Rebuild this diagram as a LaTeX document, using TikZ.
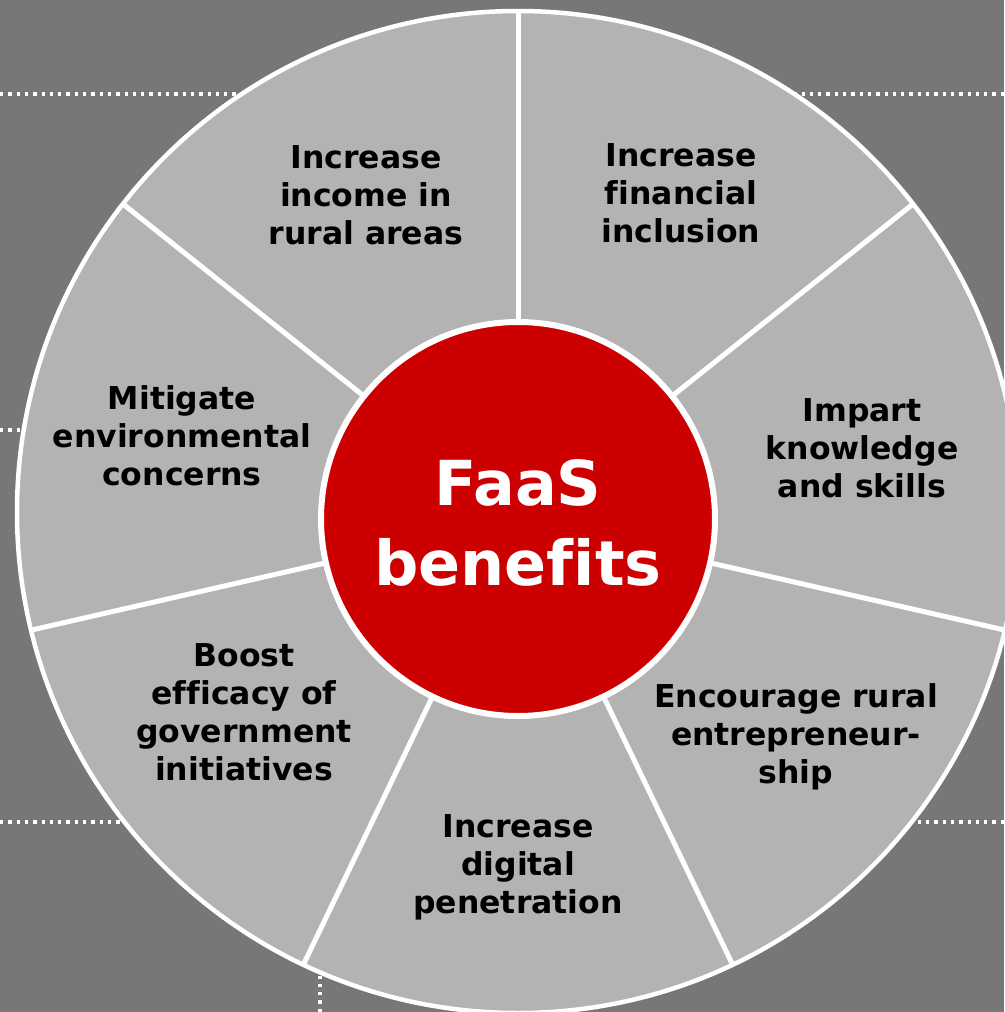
\documentclass[tikz,border=0pt]{standalone}
\usepackage{fontspec}
\setmainfont{DejaVu Sans}[Ligatures=NoCommon]
\definecolor{bg}{HTML}{777777}
\definecolor{seg}{HTML}{B3B3B3}
\definecolor{faasred}{HTML}{CC0000}
\begin{document}
\begin{tikzpicture}[x=1pt,y=-1pt,
  lbl/.style={font=\fontsize{31.5}{38}\selectfont\bfseries, align=center, text=black, inner sep=0pt},
  dots/.style={white, line width=3.5pt, dash pattern=on 3.3pt off 5pt},
  divider/.style={white, line width=5pt}]
\fill[bg] (0,0) rectangle (1004,1012);
\useasboundingbox (0,0) rectangle (1004,1012);
% dotted guide lines
\draw[dots] (0,94) -- (300,94);
\draw[dots] (1004,94) -- (700,94);
\draw[dots] (0,430) -- (100,430);
\draw[dots] (0,822) -- (200,822);
\draw[dots] (1004,822) -- (800,822);
\draw[dots] (320,1012) -- (320,900);
% wheel
\coordinate (oc) at (518,512);
\coordinate (ic) at (518,519);
\fill[seg] (oc) circle (501);
\begin{scope}
  \clip (oc) circle (501);
  \foreach \a in {0,...,6} \draw[divider] (ic) -- ++({-90+\a*360/7}:600);
\end{scope}
\draw[white, line width=4.5pt] (oc) circle (501);
\node[circle, fill=faasred, draw=white, line width=6pt, minimum size=394pt, inner sep=0pt] (core) at (ic) {};
\node[font=\fontsize{62}{80}\selectfont\bfseries, text=white, align=center, inner sep=0pt] (title) at (518,523) {FaaS\\benefits};
% labels
\node[lbl] (l1) at (366,195) {Increase\\income in\\rural areas};
\node[lbl] (l2) at (681,193) {Increase\\financial\\inclusion};
\node[lbl] (l3) at (862,448) {Impart\\knowledge\\and skills};
\node[lbl] (l4) at (796,737) {Encourage rural\\entrepreneur-\\ship};
\node[lbl] (l5) at (518,867) {Increase\\digital\\penetration};
\node[lbl] (l6) at (244,712) {Boost\\efficacy of\\government\\initiatives};
\node[lbl] (l7) at (182,436) {Mitigate\\environmental\\concerns};
\end{tikzpicture}
\end{document}
